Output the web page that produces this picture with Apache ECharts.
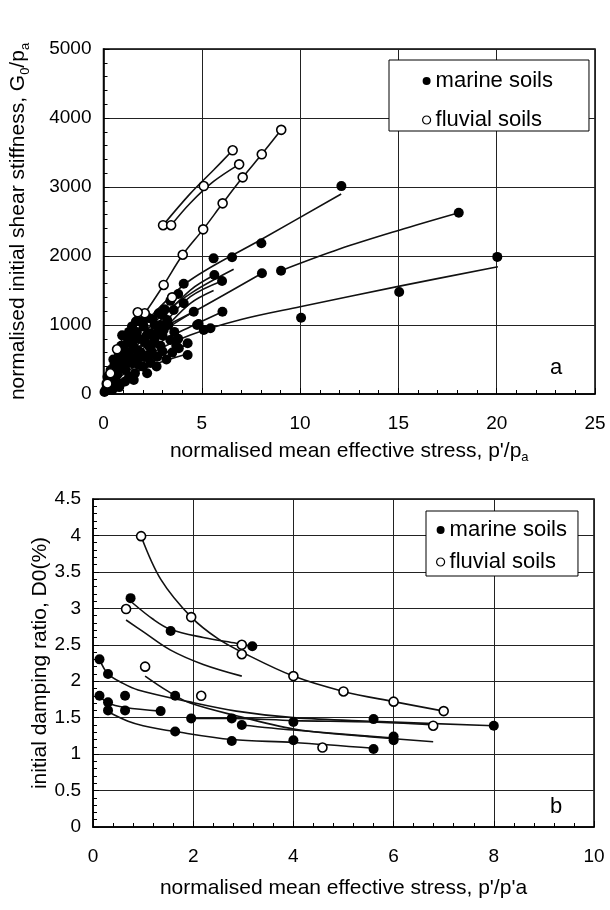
<!DOCTYPE html>
<html>
<head>
<meta charset="utf-8">
<script src="https://cdn.jsdelivr.net/npm/echarts@6/dist/echarts.min.js"></script>
<style>
  html, body { margin: 0; padding: 0; background: #fff; }
  #chart { width: 610px; height: 910px; }
</style>
</head>
<body>
<div id="chart"></div>
<script>
// ---- fig a : G0/pa against p'/pa ----
const aMarinePts = [
  [12.1, 3013], [18.07, 2626], [20.03, 1987], [15.04, 1478], [10.05, 1106],
  [9.03, 1787], [8.06, 1749], [8.03, 2184], [6.54, 1981], [5.6, 1966],
  [5.64, 1724], [6.03, 1638], [6.05, 1193], [4.59, 1193], [4.84, 1014],
  [5.1, 928], [5.44, 952], [4.08, 1599], [2.81, 1170], [4.76, 1000],
  [4.28, 735], [4.28, 565], [3.83, 662], [2.56, 735], [2.05, 541],
  [1.46, 445], [1.12, 348], [0.52, 228], [0.19, 106], [0.36, 348],
  [0.86, 541], [1.54, 830], [2.05, 975], [3.06, 928], [3.4, 783],
  [2.73, 541], [1.71, 638], [1.2, 735], [3.24, 1072], [3.57, 1217],
  [4.08, 1314], [2.22, 300], [1.54, 203], [0.86, 150], [0.3, 200],
  [0.6, 400], [1.0, 500], [1.3, 600], [2.4, 880], [2.9, 700],
  [3.6, 900], [0.1, 50], [0.4, 120], [0.7, 280], [1.8, 420],
  [2.6, 1000], [0.2, 250], [0.5, 500], [0.9, 700], [1.3, 900],
  [1.8, 800], [2.3, 700], [1.1, 180], [1.9, 1050], [2.3, 1100],
  [3.0, 1150], [3.3, 1000], [0.15, 150], [0.6, 150], [1.6, 300],
  [2.0, 400], [2.4, 450], [2.7, 400], [0.25, 180], [0.45, 300],
  [0.65, 330], [0.8, 420], [1.0, 620], [1.15, 450], [1.35, 520],
  [1.5, 700], [1.7, 900], [1.9, 600], [2.1, 750], [2.2, 850],
  [2.45, 620], [2.6, 800], [2.8, 900], [2.9, 1000], [1.25, 820],
  [1.45, 980], [1.65, 1050], [0.95, 850], [0.75, 620], [0.55, 420],
  [0.35, 250], [0.15, 80], [0.05, 30], [0.45, 60], [0.8, 100],
  [1.3, 250], [3.2, 500], [3.5, 600], [3.8, 800], [3.0, 850],
  [2.0, 1020], [2.5, 1080], [3.1, 1230],
  [3.4, 1350], [3.8, 1450], [1.0, 380], [1.7, 520], [2.3, 560],
  [3.0, 620], [3.7, 700]
];
const aFluvialPts = [
  [3.03, 2446], [3.44, 2446], [5.1, 3014], [6.57, 3532], [6.9, 3328],
  [7.08, 3140], [8.05, 3474], [9.04, 3828], [6.06, 2763], [5.07, 2386],
  [4.03, 2018], [3.06, 1580], [3.49, 1401], [2.1, 1170], [1.74, 1184],
  [0.69, 648], [0.35, 300], [0.2, 150]
];
const aMarineCurves = [
  [[0.2, 150], [1, 620], [2.5, 1150], [4.42, 1652], [8, 2235], [12.09, 2899]],
  [[9.03, 1787], [12, 2100], [15, 2370], [18.07, 2626]],
  [[0.3, 150], [1, 330], [2.5, 600], [4.42, 855], [7, 1080], [10, 1265], [15, 1560], [20.06, 1845]],
  [[0.2, 60], [1, 220], [2.5, 420], [4.25, 581]],
  [[0.3, 120], [1.5, 380], [3, 580], [4.25, 712]],
  [[0.3, 200], [1.5, 600], [3, 950], [4.76, 1217], [8.06, 1749]],
  [[0.3, 180], [1.5, 480], [3, 770], [4.42, 975], [6.05, 1193]],
  [[0.3, 230], [1.5, 700], [3, 1150], [4.5, 1470], [6.62, 1807]],
  [[0.3, 210], [1.5, 640], [3, 1100], [4.42, 1507], [5.64, 1724]],
  [[0.3, 190], [1.5, 560], [3, 1000], [4.42, 1410], [6.03, 1638]],
  [[0.3, 170], [1.5, 520], [3, 920], [4.42, 1314], [5.6, 1500]],
  [[0.2, 120], [1.2, 500], [2.6, 830], [4.59, 1193]]
];
const aFluvialCurves = [
  [[3.03, 2446], [4.4, 2900], [5.6, 3246], [6.57, 3532]],
  [[3.44, 2446], [4.42, 2768], [5.6, 3080], [6.9, 3328]],
  [[0.3, 330], [0.69, 648], [1.74, 1184]],
  [[0.9, 700], [2.1, 1170], [3.06, 1580], [4.03, 2018], [5.07, 2386], [6.06, 2763], [7.08, 3140], [8.05, 3474], [9.04, 3828]]
];

// ---- fig b : D0 against p'/p'a ----
const bMarinePts = [
  [0.75, 3.14], [1.55, 2.69], [3.18, 2.48], [0.13, 2.30], [0.30, 2.10],
  [0.13, 1.80], [0.30, 1.71], [0.30, 1.60], [0.64, 1.80], [0.64, 1.60],
  [1.35, 1.59], [1.64, 1.80], [1.96, 1.49], [2.77, 1.49], [1.64, 1.31],
  [2.77, 1.18], [2.97, 1.40], [4.0, 1.44], [4.0, 1.19], [5.6, 1.48],
  [5.6, 1.07], [6.0, 1.24], [6.0, 1.19], [8.0, 1.39]
];
const bFluvialPts = [
  [0.96, 3.99], [0.66, 2.99], [1.96, 2.88], [2.97, 2.50], [2.97, 2.37],
  [1.04, 2.20], [2.16, 1.80], [4.0, 2.07], [5.0, 1.86], [6.0, 1.72],
  [7.0, 1.59], [6.79, 1.39], [4.58, 1.09]
];
const bMarineCurves = [
  [[0.78, 3.08], [1.2, 2.85], [1.55, 2.71], [2.2, 2.60], [2.86, 2.52], [3.18, 2.48]],
  [[0.13, 2.30], [0.30, 2.10], [0.6, 1.97], [0.9, 1.88], [1.9, 1.72], [2.86, 1.59], [4.0, 1.50], [5.6, 1.45], [8.0, 1.39]],
  [[0.13, 1.80], [0.30, 1.70], [0.64, 1.64], [1.35, 1.59]],
  [[0.30, 1.58], [0.7, 1.45], [1.0, 1.39], [1.64, 1.31], [2.77, 1.20], [4.0, 1.16], [5.6, 1.08]],
  [[1.96, 1.49], [2.77, 1.49], [4.0, 1.46], [5.6, 1.44], [6.79, 1.40]],
  [[2.97, 1.40], [4.0, 1.33], [6.0, 1.22]]
];
const bFluvialCurves = [
  [[0.96, 3.99], [1.36, 3.39], [1.96, 2.88], [2.5, 2.58], [2.97, 2.40], [4.0, 2.07], [5.0, 1.86], [6.0, 1.72], [7.0, 1.59]],
  [[0.66, 2.84], [1.0, 2.68], [1.54, 2.43], [2.2, 2.23], [2.97, 2.07]],
  [[1.04, 2.07], [1.5, 1.86], [1.94, 1.70], [2.9, 1.52], [4.13, 1.33], [5.5, 1.24], [6.79, 1.17]]
];

const FONT = "'Liberation Sans', Arial, Helvetica, sans-serif";
const legendNames = ["marine soils", "fluvial soils"];

const chart = echarts.init(document.getElementById("chart"), null, { renderer: "canvas" });

const series = [];
function addCurves(curves, idx) {
  curves.forEach(c => {
    series.push({
      type: "line",
      xAxisIndex: idx,
      yAxisIndex: idx,
      data: c,
      smooth: 0.35,
      symbol: "none",
      silent: true,
      lineStyle: { color: "#111", width: 1.6 },
      z: 2
    });
  });
}
function addPoints(marine, fluvial, idx) {
  series.push({
    name: legendNames[0],
    type: "scatter",
    xAxisIndex: idx,
    yAxisIndex: idx,
    data: marine,
    symbol: "circle",
    symbolSize: 10,
    itemStyle: { color: "#000", opacity: 1 },
    z: 3
  });
  series.push({
    name: legendNames[1],
    type: "scatter",
    xAxisIndex: idx,
    yAxisIndex: idx,
    data: fluvial,
    symbol: "circle",
    symbolSize: 9,
    itemStyle: { color: "#fff", borderColor: "#000", borderWidth: 1.6, opacity: 1 },
    z: 4
  });
}
addCurves(aMarineCurves, 0);
addCurves(aFluvialCurves, 0);
addPoints(aMarinePts, aFluvialPts, 0);
addCurves(bMarineCurves, 1);
addCurves(bFluvialCurves, 1);
addPoints(bMarinePts, bFluvialPts, 1);

const rich = {
  t: { fontSize: 21, fontFamily: FONT, color: "#000", lineHeight: 26 },
  s: { fontSize: 13, fontFamily: FONT, color: "#000", lineHeight: 13, verticalAlign: "bottom" }
};

function baseAxis(idx, max, interval, name, nameGap, labelMargin) {
  return {
    type: "value",
    gridIndex: idx,
    min: 0,
    max: max,
    interval: interval,
    name: name,
    nameLocation: "middle",
    nameGap: nameGap,
    nameMoveOverlap: false,
    nameTextStyle: { fontSize: 21, fontFamily: FONT, color: "#000", rich: rich },
    axisLine: { show: true, lineStyle: { color: "#000", width: 1.5 } },
    axisTick: { show: true, inside: true, length: 6, lineStyle: { color: "#000" } },
    minorTick: { show: true, splitNumber: 5, length: 4, lineStyle: { color: "#000" } },
    axisLabel: { fontSize: 19, fontFamily: FONT, color: "#000", margin: labelMargin, formatter: v => String(v) },
    splitLine: { show: true, lineStyle: { color: "#222", width: 1 } }
  };
}

const option = {
  animation: false,
  backgroundColor: "#fff",
  grid: [
    { left: 103, top: 49, width: 492, height: 345, show: true, borderColor: "#000", borderWidth: 1.5, backgroundColor: "transparent" },
    { left: 93, top: 499, width: 501, height: 328, show: true, borderColor: "#000", borderWidth: 1.5, backgroundColor: "transparent" }
  ],
  xAxis: [
    baseAxis(0, 25, 5, "{t|normalised mean effective stress, p'/p}{s|a}", 44, 20),
    baseAxis(1, 10, 2, "{t|normalised mean effective stress, p'/p'a}", 48, 20)
  ],
  yAxis: [
    baseAxis(0, 5000, 1000, "{t|normalised initial shear stiffness, G}{s|0}{t|/p}{s|a}", 72, 12),
    baseAxis(1, 4.5, 0.5, "{t|initial damping ratio, D0(%)}", 40, 12)
  ],
  legend: [
    {
      orient: "vertical",
      left: 389,
      top: 60,
      padding: [10, 36, 0, 33],
      itemGap: 17,
      itemWidth: 8,
      itemHeight: 8,
      itemTextGap: 10,
      borderColor: "#000",
      borderWidth: 1,
      backgroundColor: "#fff",
      selectedMode: false,
      textStyle: { fontSize: 22, fontFamily: FONT, color: "#000", lineHeight: 22 },
      data: [
        { name: legendNames[0], icon: "circle", itemStyle: { color: "#000" } },
        { name: legendNames[1], icon: "circle", itemStyle: { color: "#fff", borderColor: "#000", borderWidth: 1.2 } }
      ]
    },
    {
      orient: "vertical",
      left: 426,
      top: 511,
      padding: [8, 11, 3, 10],
      itemGap: 10,
      itemWidth: 8,
      itemHeight: 8,
      itemTextGap: 8,
      borderColor: "#000",
      borderWidth: 1,
      backgroundColor: "#fff",
      selectedMode: false,
      textStyle: { fontSize: 22, fontFamily: FONT, color: "#000", lineHeight: 22 },
      data: [
        { name: legendNames[0], icon: "circle", itemStyle: { color: "#000" } },
        { name: legendNames[1], icon: "circle", itemStyle: { color: "#fff", borderColor: "#000", borderWidth: 1.2 } }
      ]
    }
  ],
  graphic: [
    { type: "text", left: 550, top: 357, style: { text: "a", fontSize: 22, fontFamily: FONT, fill: "#000" }, z: 10 },
    { type: "text", left: 550, top: 796, style: { text: "b", fontSize: 22, fontFamily: FONT, fill: "#000" }, z: 10 }
  ],
  series: series
};

chart.setOption(option);
</script>
</body>
</html>
